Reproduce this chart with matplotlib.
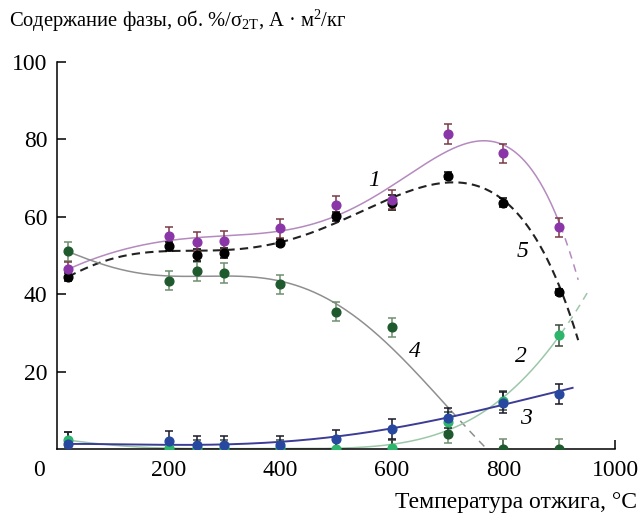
import numpy as np
import matplotlib
matplotlib.use("Agg")
import matplotlib.pyplot as plt
from matplotlib.transforms import ScaledTranslation

plt.rcParams['font.family'] = ['Liberation Serif', 'DejaVu Serif']
plt.rcParams['mathtext.fontset'] = 'custom'
plt.rcParams['mathtext.rm'] = 'Liberation Serif'
plt.rcParams['mathtext.it'] = 'Liberation Serif:italic'

# ---- measured points ----
temps = [20, 200, 250, 300, 400, 500, 600, 700, 800, 900]
s1 = [46.4, 55.0, 53.5, 53.8, 57.0, 63.0, 64.4, 81.3, 76.3, 57.2]
s1_err = [2.0, 2.4, 2.4, 2.4, 2.4, 2.4, 2.4, 2.6, 2.4, 2.4]
s5 = [44.5, 52.3, 50.1, 50.5, 53.3, 60.1, 63.6, 70.6, 63.6, 40.6]
s5_err = [1.0, 1.2, 1.5, 1.3, 1.0, 1.2, 2.0, 1.0, 1.2, 0.8]
s4 = [51.0, 43.5, 45.9, 45.5, 42.5, 35.5, 31.4, 4.0, 0.0, 0.0]
s4_err = [2.5, 2.5, 2.5, 2.6, 2.5, 2.5, 2.5, 2.5, 2.5, 2.5]
s2 = [2.3, 0.2, 0.2, 0.2, 0.2, 0.0, 0.3, 7.0, 12.5, 29.4]
s2_err = [2.0, 2.0, 2.0, 2.0, 2.0, 2.0, 2.0, 2.5, 2.5, 2.7]
s3 = [1.2, 2.1, 1.0, 1.0, 1.0, 2.5, 5.1, 7.9, 12.0, 14.2]
s3_err = [3.2, 2.6, 2.4, 2.4, 2.4, 2.4, 2.6, 2.6, 2.6, 2.6]

# ---- fitted curves ----
c1_x = [20, 105, 195, 296, 399, 500, 601, 697, 760, 800, 859, 901, 918, 934]
c1_y = [46.4, 50.9, 53.9, 54.6, 56.5, 60.8, 66.4, 78.4, 79.5, 78.0, 69.4, 59.1, 52.0, 42.8]
c1_split = 901
c5_x = [20, 105, 195, 296, 399, 500, 601, 660, 722, 800, 859, 901, 934]
c5_y = [44.5, 49.2, 51.4, 51.1, 53.1, 59.1, 64.3, 67.7, 69.2, 64.3, 53.9, 41.9, 28.1]
c4_x = [20, 105, 200, 300, 400, 500, 578, 638, 700, 735, 770]
c4_y = [50.9, 46.9, 44.3, 44.9, 43.6, 37.0, 29.0, 21.2, 10.5, 5.2, 0.2]
c4_split = 705
c2_x = [20, 100, 200, 300, 400, 500, 578, 640, 698, 770, 802, 847, 901, 925, 954]
c2_y = [2.3, 1.0, 0.2, 0.1, 0.1, 0.3, 0.6, 2.2, 4.9, 10.3, 13.5, 19.5, 29.2, 35.0, 41.0]
c2_split = 901
c3_x = [20, 100, 195, 300, 399, 488, 578, 698, 802, 924]
c3_y = [1.4, 1.1, 1.0, 1.3, 1.9, 3.2, 4.5, 7.9, 11.8, 15.7]

xticks = [0, 200, 400, 600, 800, 1000]
yticks = [20, 40, 60, 80, 100]


def smooth(xk, yk, deg, n=400):
    xk = np.asarray(xk, float); yk = np.asarray(yk, float)
    u = (xk - 500.0) / 500.0
    p = np.polyfit(u, yk, deg)
    xs = np.linspace(xk[0], xk[-1], n)
    return xs, np.polyval(p, (xs - 500.0) / 500.0)


def draw(ax, xk, yk, deg, color, lw, split=None, ls='-'):
    xs, ys = smooth(xk, yk, deg)
    if split is None:
        ax.plot(xs, ys, color=color, lw=lw, ls=ls, zorder=2)
    else:
        m = xs <= split
        ax.plot(xs[m], ys[m], color=color, lw=lw, ls=ls, zorder=2)
        m2 = xs >= split
        ax.plot(xs[m2], ys[m2], color=color, lw=lw, ls=(0, (5, 4)), zorder=2)


fig = plt.figure(figsize=(6.44, 5.14), dpi=100)
ax = fig.add_axes([57 / 644, 65 / 514, 558 / 644, 387.3 / 514])

purple_l = '#b58abf'
green_l = '#9cc7a8'
gray_l = '#8f8f8f'
navy_l = '#3c3c96'

draw(ax, c1_x, c1_y, 7, purple_l, 1.1, split=c1_split)
draw(ax, c5_x, c5_y, 7, '#222222', 1.5, ls=(0, (4, 2.5)))
draw(ax, c4_x, c4_y, 6, gray_l, 1.1, split=c4_split)
draw(ax, c2_x, c2_y, 6, green_l, 1.1, split=c2_split)
draw(ax, c3_x, c3_y, 4, navy_l, 1.4)

eb = dict(fmt='o', markersize=6.3, elinewidth=1.1, capsize=3, capthick=1.1, zorder=3)
ax.errorbar(temps, s4, yerr=s4_err, color='#1f5a2e', ecolor='#6f8f6f', **eb)
ax.errorbar(temps, s2, yerr=s2_err, color='#2db56b', ecolor='#3a4a3a', **eb)
ax.errorbar(temps, s3, yerr=s3_err, color='#2848a0', ecolor='#1a1a2a', **eb)
ax.errorbar(temps, s5, yerr=s5_err, color='#000000', ecolor='#000000', **eb)
ax.errorbar(temps, s1, yerr=s1_err, color='#8a36a8', ecolor='#7a3a45', **eb)

ax.set_xlim(0, 1000)
ax.set_ylim(0, 100)
ax.spines['top'].set_visible(False)
ax.spines['right'].set_visible(False)
for s in ('left', 'bottom'):
    ax.spines[s].set_linewidth(1.1)
ax.set_xticks(xticks)
ax.set_xticklabels([str(v) for v in xticks])
ax.set_yticks(yticks)
ax.set_yticklabels([str(v) for v in yticks])
ax.tick_params(direction='in', length=6.5, width=1.1, labelsize=17, pad=7)
ax.tick_params(axis='x', pad=8)
ax.xaxis.get_major_ticks()[0].tick1line.set_visible(False)
lab0 = ax.get_xticklabels()[0]
lab0.set_transform(lab0.get_transform() + ScaledTranslation(-0.18, 0, fig.dpi_scale_trans))

for txt, xx, yy in [('1', 569, 69.4), ('5', 835, 50.9), ('4', 641, 25.1),
                    ('2', 832, 23.8), ('3', 841, 7.9)]:
    ax.text(xx, yy, txt, fontsize=17, style='italic', ha='center', va='center')

fig.text(9 / 644, 1 - 27 / 514,
         r'Содержание фазы, об. %/σ$_{\mathrm{2Т}}$, А · м$^{\mathrm{2}}$/кг',
         fontsize=14.8, ha='left', va='baseline')
fig.text(637 / 644, 1 - 508 / 514, 'Температура отжига, °C',
         fontsize=17, ha='right', va='baseline')

fig.savefig('out.png', dpi=100)
